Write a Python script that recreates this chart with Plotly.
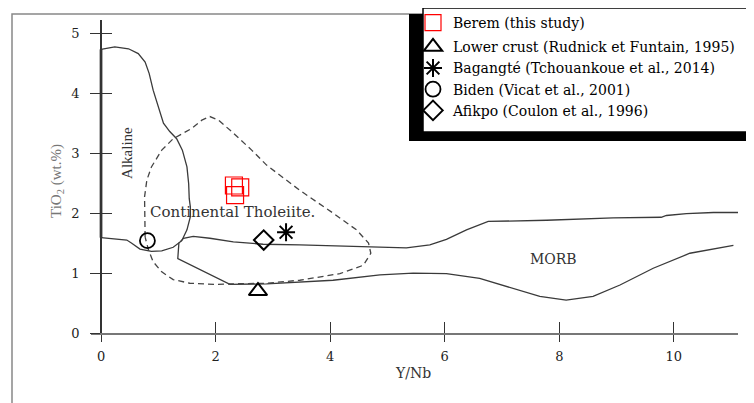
import plotly.graph_objects as go

# ---------------- data ----------------
# Alkaline field boundary (solid)
alk_x = [0, 0.24, 0.48, 0.65, 0.77, 0.84, 0.91, 1.00, 1.09, 1.20, 1.32, 1.42, 1.50, 1.53, 1.54,
         1.56, 1.56, 1.50, 1.41, 1.26, 1.06, 0.88, 0.68, 0.53, 0.45, 0]
alk_y = [4.73, 4.77, 4.74, 4.66, 4.52, 4.33, 4.05, 3.77, 3.50, 3.36, 3.24, 3.05, 2.77, 2.49, 2.24,
         2.10, 1.94, 1.72, 1.54, 1.43, 1.37, 1.36, 1.40, 1.50, 1.55, 1.59]
# left edge of the alkaline field along the TiO2 axis (thick)
alk_edge_x = [0, 0]
alk_edge_y = [1.59, 4.73]

# Upper boundary of the MORB field (solid)
up_x = [1.38, 1.44, 1.61, 1.90, 2.31, 2.83, 3.47, 4.35, 4.87, 5.33, 5.74, 6.03, 6.38, 6.76,
        7.78, 8.94, 9.78, 9.87, 10.22, 10.69, 11.12]
up_y = [1.52, 1.58, 1.61, 1.58, 1.52, 1.48, 1.47, 1.45, 1.43, 1.42, 1.47, 1.56, 1.72, 1.86,
        1.88, 1.92, 1.93, 1.96, 1.99, 2.01, 2.01]

# Lower boundary of the MORB field (solid)
lo_x = [1.36, 1.34, 2.25, 2.89, 4.05, 4.63, 4.87, 5.45, 6.03, 6.61, 7.20, 7.66, 8.12, 8.59,
        9.06, 9.64, 10.28, 11.04]
lo_y = [1.51, 1.24, 0.81, 0.82, 0.88, 0.95, 0.97, 1.00, 0.99, 0.91, 0.74, 0.61, 0.55, 0.61,
        0.80, 1.08, 1.33, 1.46]

# Continental tholeiite field (dashed)
ct_x = [0.77, 0.76, 0.80, 0.88, 1.06, 1.26, 1.58, 1.76, 1.90, 2.05, 2.28, 2.63, 2.89, 3.47,
        4.05, 4.46, 4.67, 4.71, 4.58, 4.17, 3.47, 2.89, 2.31, 2.02, 1.55, 1.26, 1.06, 0.91,
        0.83, 0.77]
ct_y = [1.60, 2.27, 2.55, 2.77, 3.05, 3.24, 3.41, 3.55, 3.61, 3.55, 3.36, 3.05, 2.80, 2.38,
        2.00, 1.72, 1.50, 1.33, 1.13, 0.99, 0.88, 0.83, 0.82, 0.81, 0.83, 0.89, 1.02, 1.19,
        1.38, 1.60]

# samples
berem_x = [2.32, 2.43, 2.34]
berem_y = [2.46, 2.43, 2.30]
lower_crust_x = [2.74]
lower_crust_y = [0.70]
bagangte_x = [3.23]
bagangte_y = [1.68]
biden_x = [0.81]
biden_y = [1.54]
afikpo_x = [2.84]
afikpo_y = [1.55]

x_ticks = [0, 2, 4, 6, 8, 10]
y_ticks = [0, 1, 2, 3, 4, 5]
x_range = [-0.175, 11.12]
y_range = [0, 5.22]

field_labels = ["Alkaline", "Continental Tholeiite.", "MORB"]
field_label_x = [0.45, 2.29, 7.90]
field_label_y = [3.00, 2.02, 1.23]

legend_names = ["Berem (this study)", "Lower crust (Rudnick et Funtain, 1995)",
                "Bagangté (Tchouankoue et al., 2014)", "Biden (Vicat et al., 2001)",
                "Afikpo (Coulon et al., 1996)"]

# ---------------- layout helpers ----------------
# The page body has an 8px margin, so the figure is drawn 8px in from the window edge.
OFF = 8
W, H = 754 - OFF, 403 - OFF
# plot area in window pixels
L_WIN, R_WIN, T_WIN, B_WIN = 91, 738, 20, 333
L, R, T, B = L_WIN - OFF, R_WIN - OFF, T_WIN - OFF, B_WIN - OFF


def px(v):
    """window pixel x -> paper x"""
    return (v - L_WIN) / (R_WIN - L_WIN)


def py(v):
    """window pixel y -> paper y"""
    return (B_WIN - v) / (B_WIN - T_WIN)


SERIF = "Liberation Serif, Times New Roman, serif"
WIDE = "DejaVu Serif, serif"
LINE_C = "#3a3a3a"

fig = go.Figure()

line_style = dict(color=LINE_C, width=1.3)
fig.add_trace(go.Scatter(x=alk_x, y=alk_y, mode="lines", line=line_style, showlegend=False,
                         hoverinfo="skip"))
fig.add_trace(go.Scatter(x=alk_edge_x, y=alk_edge_y, mode="lines",
                         line=dict(color="black", width=2.6), showlegend=False, hoverinfo="skip"))
fig.add_trace(go.Scatter(x=up_x, y=up_y, mode="lines", line=line_style, showlegend=False,
                         hoverinfo="skip"))
fig.add_trace(go.Scatter(x=lo_x, y=lo_y, mode="lines", line=line_style, showlegend=False,
                         hoverinfo="skip"))
fig.add_trace(go.Scatter(x=ct_x, y=ct_y, mode="lines",
                         line=dict(color="#444", width=1.3, dash="6px,4px"),
                         showlegend=False, hoverinfo="skip"))

# sample points
fig.add_trace(go.Scatter(x=berem_x, y=berem_y, mode="markers", name=legend_names[0],
                         legendgroup="a",
                         marker=dict(symbol="square-open", size=17, color="#ff0000",
                                     line=dict(width=1.2, color="#ff0000"))))
fig.add_trace(go.Scatter(x=lower_crust_x, y=lower_crust_y, mode="markers", name=legend_names[1],
                         legendgroup="b",
                         marker=dict(symbol="triangle-up-open", size=16, color="black",
                                     line=dict(width=2, color="black"))))
fig.add_trace(go.Scatter(x=bagangte_x, y=bagangte_y, mode="markers", name=legend_names[2],
                         legendgroup="b",
                         marker=dict(symbol="asterisk-open", size=15, color="black",
                                     line=dict(width=2, color="black"))))
fig.add_trace(go.Scatter(x=biden_x, y=biden_y, mode="markers", name=legend_names[3],
                         legendgroup="b",
                         marker=dict(symbol="circle-open", size=15, color="black",
                                     line=dict(width=1.8, color="black"))))
fig.add_trace(go.Scatter(x=afikpo_x, y=afikpo_y, mode="markers", name=legend_names[4],
                         legendgroup="b",
                         marker=dict(symbol="diamond-open", size=15, color="black",
                                     line=dict(width=2, color="black"))))

# dummy trace carrying the overlay axes used for the inner half of the crossing ticks
fig.add_trace(go.Scatter(x=[None], y=[None], xaxis="x2", yaxis="y2", showlegend=False,
                         hoverinfo="skip"))

# field labels
fig.add_annotation(x=field_label_x[0], y=field_label_y[0], text=field_labels[0], textangle=-90,
                   showarrow=False, font=dict(family=SERIF, size=15, color="#333"))
fig.add_annotation(x=field_label_x[1], y=field_label_y[1], text=field_labels[1],
                   showarrow=False, font=dict(family=WIDE, size=15, color="#333"))
fig.add_annotation(x=field_label_x[2], y=field_label_y[2], text=field_labels[2],
                   showarrow=False, font=dict(family=WIDE, size=14, color="#333"))

# axis titles
fig.add_annotation(xref="paper", yref="paper", x=px(413), y=py(383), text="Y/Nb",
                   showarrow=False, font=dict(family=WIDE, size=14, color="#333"))
fig.add_annotation(xref="paper", yref="paper", x=px(46), y=py(181),
                   text="TiO<sub>2</sub> (wt.%)", textangle=-90,
                   showarrow=False, font=dict(family=SERIF, size=15, color="#777"))

# frame and legend box (decoration)
shapes = [
    dict(type="rect", xref="paper", yref="paper", x0=px(12), x1=px(748), y0=py(14), y1=py(420),
         line=dict(color="#888", width=1.5), fillcolor="rgba(0,0,0,0)", layer="above"),
    dict(type="rect", xref="paper", yref="paper", x0=px(409), x1=px(780), y0=py(14), y1=py(141),
         line=dict(width=0), fillcolor="black", layer="above"),
    dict(type="rect", xref="paper", yref="paper", x0=px(423), x1=px(780), y0=py(8), y1=py(132),
         line=dict(color="black", width=1.5), fillcolor="white", layer="above"),
]

tick_font = dict(family=WIDE, size=13, color="#222")
fig.update_layout(
    width=W, height=H,
    margin=dict(l=L, r=W - R, t=T, b=H - B, autoexpand=False),
    paper_bgcolor="white", plot_bgcolor="white",
    shapes=shapes,
    showlegend=True,
    legend=dict(x=px(413), y=py(7), xanchor="left", yanchor="top",
                bgcolor="rgba(0,0,0,0)", borderwidth=0, tracegroupgap=3,
                font=dict(family=WIDE, size=14, color="black")),
    xaxis=dict(range=x_range, tickvals=x_ticks, ticks="outside", ticklen=7, tickwidth=1.3,
               tickcolor="#333", showline=True, linecolor="#777", linewidth=1.5,
               showgrid=False, zeroline=False, tickfont=tick_font, ticklabelstandoff=4,
               anchor="y"),
    yaxis=dict(range=y_range, tickvals=y_ticks, ticks="outside", ticklen=10, tickwidth=1.3,
               tickcolor="#333", showline=True, linecolor="#333", linewidth=1.5,
               showgrid=False, zeroline=False, tickfont=tick_font, ticklabelstandoff=8,
               anchor="free", position=px(101)),
    xaxis2=dict(range=x_range, tickvals=x_ticks, ticks="inside", ticklen=11, tickwidth=1.3,
                tickcolor="#333", showline=False, showgrid=False, zeroline=False,
                showticklabels=False, overlaying="x", anchor="y"),
    yaxis2=dict(range=y_range, tickvals=y_ticks, ticks="inside", ticklen=10, tickwidth=1.3,
                tickcolor="#333", showline=False, showgrid=False, zeroline=False,
                showticklabels=False, overlaying="y", anchor="free", position=px(101)),
)

fig.write_html("out.html")
